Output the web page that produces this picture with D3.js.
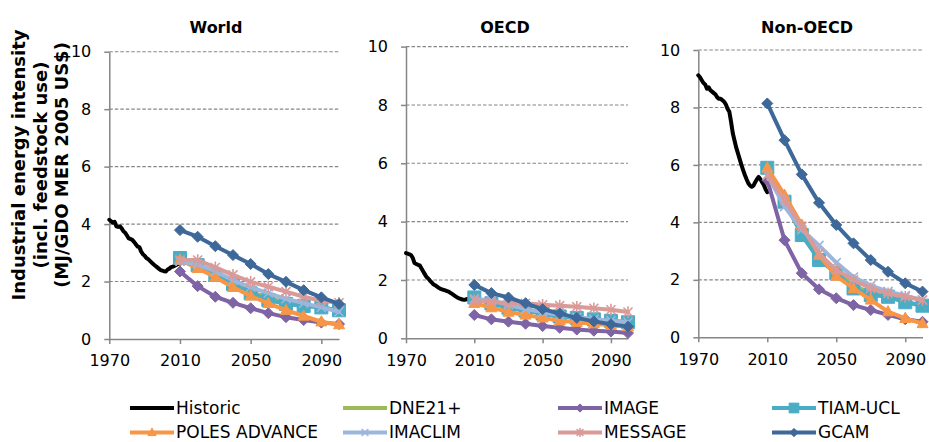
<!DOCTYPE html>
<html>
<head>
<meta charset="utf-8">
<script src="https://cdn.jsdelivr.net/npm/d3@7"></script>
<style>
  body { margin: 0; background: #fff; }
  svg { display: block; font-family: "DejaVu Sans", Verdana, sans-serif; }
</style>
</head>
<body>
<div id="chart"></div>
<script>
// ---- data ----
const regions = ['World', 'OECD', 'Non-OECD'];
const yTicks = [0, 2, 4, 6, 8, 10];
const xTicks = [1970, 2010, 2050, 2090];

const histYears = [1970, 1971, 1972, 1973, 1974, 1975, 1976, 1977, 1978, 1979,
  1980, 1981, 1982, 1983, 1984, 1985, 1986, 1987, 1988, 1989,
  1990, 1991, 1992, 1993, 1994, 1995, 1996, 1997, 1998, 1999,
  2000, 2001, 2002, 2003, 2004, 2005, 2006, 2007, 2008, 2009, 2010];
const modelYears = [2010, 2020, 2030, 2040, 2050, 2060, 2070, 2080, 2090, 2100];

const historic = {
  'World': [4.15, 4.1, 4.05, 4.08, 3.92, 3.9, 3.92, 3.85, 3.75, 3.7,
    3.6, 3.5, 3.48, 3.45, 3.38, 3.3, 3.22, 3.2, 3.05, 2.95,
    2.9, 2.82, 2.78, 2.72, 2.66, 2.6, 2.55, 2.5, 2.45, 2.4,
    2.38, 2.36, 2.35, 2.42, 2.45, 2.5, 2.52, 2.55, 2.58, 2.62, 2.62],
  'OECD': [2.92, 2.9, 2.88, 2.85, 2.75, 2.58, 2.55, 2.52, 2.5, 2.4,
    2.3, 2.2, 2.1, 2.05, 1.98, 1.92, 1.85, 1.82, 1.78, 1.74,
    1.7, 1.68, 1.66, 1.64, 1.62, 1.6, 1.56, 1.52, 1.48, 1.44,
    1.4, 1.37, 1.35, 1.33, 1.32, 1.33, 1.35, 1.33, 1.3, 1.3, 1.3],
  'Non-OECD': [9.12, 9.05, 8.95, 8.85, 8.8, 8.65, 8.7, 8.6, 8.55, 8.5,
    8.45, 8.35, 8.3, 8.3, 8.25, 8.2, 8.1, 7.95, 7.85, 7.5,
    7.1, 6.85, 6.6, 6.4, 6.2, 6.0, 5.82, 5.65, 5.5, 5.36,
    5.28, 5.24, 5.28, 5.4, 5.5, 5.58, 5.5, 5.4, 5.3, 5.15, 5.05]
};
const dne21 = {
  'World': [2.8, 2.55, 2.25, 1.95, 1.65, 1.42, 1.28, 1.18, 1.1, 1.0],
  'OECD': [1.35, 1.2, 1.05, 0.95, 0.85, 0.75, 0.7, 0.65, 0.6, 0.55],
  'Non-OECD': [5.8, 4.75, 3.65, 2.8, 2.3, 1.8, 1.55, 1.42, 1.25, 1.1]
};
const image = {
  'World': [2.35, 1.84, 1.47, 1.26, 1.07, 0.9, 0.76, 0.66, 0.57, 0.52],
  'OECD': [0.8, 0.65, 0.57, 0.5, 0.42, 0.36, 0.3, 0.26, 0.23, 0.18],
  'Non-OECD': [5.47, 3.38, 2.23, 1.67, 1.36, 1.12, 0.95, 0.78, 0.63, 0.54]
};
const tiam = {
  'World': [2.82, 2.57, 2.23, 1.91, 1.59, 1.36, 1.22, 1.15, 1.1, 1.0],
  'OECD': [1.4, 1.2, 1.05, 0.95, 0.85, 0.75, 0.7, 0.65, 0.6, 0.55],
  'Non-OECD': [5.9, 4.72, 3.56, 2.69, 2.23, 1.7, 1.47, 1.41, 1.22, 1.1]
};
const poles = {
  'World': [2.75, 2.46, 2.15, 1.8, 1.5, 1.24, 1.0, 0.8, 0.6, 0.5],
  'OECD': [1.2, 1.05, 0.9, 0.8, 0.7, 0.6, 0.55, 0.5, 0.45, 0.4],
  'Non-OECD': [5.9, 4.95, 3.91, 2.86, 2.13, 1.7, 1.3, 0.89, 0.66, 0.48]
};
const imaclim = {
  'World': [2.7, 2.6, 2.35, 2.05, 1.8, 1.6, 1.4, 1.25, 1.1, 0.95],
  'OECD': [1.35, 1.3, 1.15, 1.0, 0.9, 0.8, 0.72, 0.65, 0.6, 0.55],
  'Non-OECD': [5.65, 4.55, 3.75, 3.2, 2.6, 2.1, 1.8, 1.6, 1.45, 1.3]
};
const message = {
  'World': [2.75, 2.75, 2.49, 2.23, 1.99, 1.82, 1.65, 1.47, 1.33, 1.26],
  'OECD': [1.3, 1.25, 1.2, 1.2, 1.15, 1.12, 1.08, 1.03, 0.98, 0.9],
  'Non-OECD': [5.64, 4.78, 3.85, 2.92, 2.34, 2.0, 1.7, 1.53, 1.41, 1.3]
};
const gcam = {
  'World': [3.79, 3.56, 3.23, 2.92, 2.61, 2.26, 1.99, 1.7, 1.45, 1.22],
  'OECD': [1.83, 1.55, 1.4, 1.2, 1.0, 0.85, 0.7, 0.58, 0.48, 0.4],
  'Non-OECD': [8.14, 6.86, 5.67, 4.68, 3.91, 3.27, 2.69, 2.28, 1.88, 1.59]
};

// series in drawing order (later ones on top, like Excel)
const series = [
  { name: 'Historic', years: histYears, values: historic, color: '#000000', marker: null },
  { name: 'DNE21+', years: modelYears, values: dne21, color: '#9BBB59', marker: null },
  { name: 'IMAGE', years: modelYears, values: image, color: '#7F64A5', marker: 'diamond' },
  { name: 'TIAM-UCL', years: modelYears, values: tiam, color: '#4BACC6', marker: 'square' },
  { name: 'POLES ADVANCE', years: modelYears, values: poles, color: '#F79646', marker: 'triangle' },
  { name: 'IMACLIM', years: modelYears, values: imaclim, color: '#9DB6DB', marker: 'x' },
  { name: 'MESSAGE', years: modelYears, values: message, color: '#D99A98', marker: 'star' },
  { name: 'GCAM', years: modelYears, values: gcam, color: '#3D6899', marker: 'diamond' }
];

// ---- layout ----
const W = 929, H = 442;
const panels = [
  { x0: 109.3, x1: 339, yTop: 51.7, yBot: 339, titleX: 216 },
  { x0: 406, x1: 628, yTop: 46.6, yBot: 338.3, titleX: 505 },
  { x0: 698.3, x1: 922.5, yTop: 50, yBot: 337.3, titleX: 807 }
];
const axisColor = '#868686';

const svg = d3.select('#chart').append('svg')
  .attr('width', W).attr('height', H);

function markerPath(type, s) {
  if (type === 'diamond') return `M0,${-s}L${s},0L0,${s}L${-s},0Z`;
  if (type === 'square') return `M${-s},${-s}H${s}V${s}H${-s}Z`;
  if (type === 'triangle') return `M0,${-s * 1.1}L${s},${s * 0.75}L${-s},${s * 0.75}Z`;
  if (type === 'x') return `M${-s},${-s}L${s},${s}M${-s},${s}L${s},${-s}`;
  if (type === 'star') return `M${-s},${-s}L${s},${s}M${-s},${s}L${s},${-s}M0,${-s * 1.3}V${s * 1.3}`;
  return '';
}
const markerSize = { diamond: 5.5, square: 6.5, triangle: 5.5, x: 4.5, star: 4.5 };

function drawMarker(g, type, color, x, y, s) {
  const open = type === 'x' || type === 'star';
  g.append('path')
    .attr('transform', `translate(${x},${y})`)
    .attr('d', markerPath(type, s))
    .attr('fill', open ? 'none' : color)
    .attr('stroke', color)
    .attr('stroke-width', open ? 1.6 : 1);
}

regions.forEach((region, i) => {
  const p = panels[i];
  const x = d3.scaleLinear().domain([1970, 2100]).range([p.x0, p.x1]);
  const y = d3.scaleLinear().domain([0, 10]).range([p.yBot, p.yTop]);
  const g = svg.append('g');

  // dashed gridlines
  g.selectAll('line.grid')
    .data(yTicks.filter(d => d > 0))
    .join('line')
    .attr('x1', p.x0).attr('x2', p.x1)
    .attr('y1', d => y(d)).attr('y2', d => y(d))
    .attr('stroke', axisColor)
    .attr('stroke-width', 1.1)
    .attr('stroke-dasharray', '3.5,2');

  // y axis
  g.append('g')
    .attr('transform', `translate(${p.x0},0)`)
    .call(d3.axisLeft(y).tickValues(yTicks).tickSize(5).tickPadding(13).tickSizeOuter(0))
    .call(a => a.selectAll('line, path').attr('stroke', axisColor).attr('stroke-width', 1.5))
    .call(a => a.selectAll('text').attr('font-size', '16px').attr('fill', '#000')
      .attr('font-family', '"DejaVu Sans", Verdana, sans-serif'));

  // x axis
  g.append('g')
    .attr('transform', `translate(0,${p.yBot})`)
    .call(d3.axisBottom(x).tickValues(xTicks).tickFormat(d3.format('d')).tickSize(5).tickPadding(11).tickSizeOuter(0))
    .call(a => a.selectAll('line, path').attr('stroke', axisColor).attr('stroke-width', 1.5))
    .call(a => a.selectAll('text').attr('font-size', '16px').attr('fill', '#000')
      .attr('font-family', '"DejaVu Sans", Verdana, sans-serif'));

  // title
  svg.append('text')
    .attr('x', p.titleX).attr('y', 33)
    .attr('text-anchor', 'middle')
    .attr('font-size', '16px').attr('font-weight', 'bold')
    .text(region);

  // series
  const line = d3.line().x(d => x(d[0])).y(d => y(d[1]));
  series.forEach(s => {
    const pts = s.years.map((yr, k) => [yr, s.values[region][k]]);
    g.append('path')
      .datum(pts)
      .attr('d', line)
      .attr('fill', 'none')
      .attr('stroke', s.color)
      .attr('stroke-width', 4)
      .attr('stroke-linejoin', 'round')
      .attr('stroke-linecap', 'round');
    if (s.marker) {
      pts.forEach(d => drawMarker(g, s.marker, s.color, x(d[0]), y(d[1]), markerSize[s.marker]));
    }
  });
});

// y axis title (three lines)
const yTitle = ['Industrial energy intensity', '(incl. feedstock use)', '(MJ/GDO MER 2005 US$)'];
const yTitleX = [19, 41, 62];
yTitle.forEach((t, k) => {
  svg.append('text')
    .attr('transform', `translate(${yTitleX[k]},165) rotate(-90)`)
    .attr('text-anchor', 'middle')
    .attr('dy', '0.35em')
    .attr('font-size', '18px').attr('font-weight', 'bold')
    .text(t);
});

// legend: two rows of four
const legendCols = [130, 343, 558, 772];
const legendRows = [408, 432.5];
series.forEach((s, k) => {
  const lx = legendCols[k % 4], ly = legendRows[Math.floor(k / 4)];
  const lg = svg.append('g');
  lg.append('line')
    .attr('x1', lx).attr('x2', lx + 44)
    .attr('y1', ly).attr('y2', ly)
    .attr('stroke', s.color).attr('stroke-width', 4);
  if (s.marker) drawMarker(lg, s.marker, s.color, lx + 22, ly, markerSize[s.marker] * 0.75);
  lg.append('text')
    .attr('x', lx + 46).attr('y', ly)
    .attr('dy', '0.35em')
    .attr('font-size', '17px')
    .text(s.name);
});
</script>
</body>
</html>
